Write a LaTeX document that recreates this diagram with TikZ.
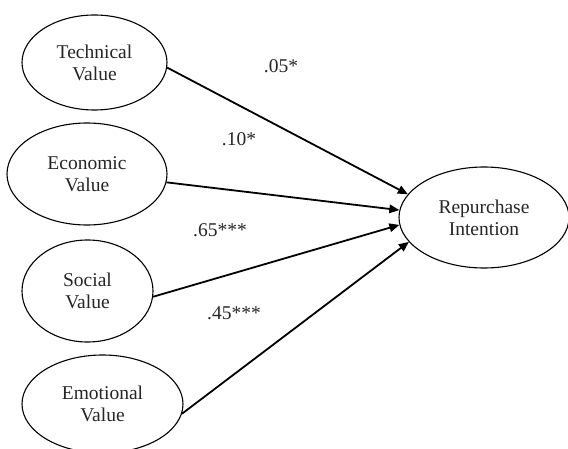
\documentclass[tikz,border=0pt]{standalone}
\usepackage{fontspec}
\setmainfont{Liberation Serif}
\usetikzlibrary{shapes.geometric,arrows.meta}
\begin{document}
\begin{tikzpicture}[x=1pt,y=-1pt,
  latent/.style={ellipse,draw=black,line width=1.1pt,inner sep=0pt,align=center,
    text=black!85,font=\fontsize{19.5}{22}\selectfont},
  path/.style={line width=1.8pt,-{Triangle[length=10pt,width=8.5pt]}},
  coef/.style={text=black!85,font=\fontsize{19.5}{22}\selectfont,inner sep=0pt}]
\useasboundingbox[fill=white] (0,0) rectangle (568,449);
\node[latent,minimum width=145pt,minimum height=95pt] (tv) at (94.5,62.5) {Technical\\Value};
\node[latent,minimum width=160pt,minimum height=102pt] (ev) at (87,174) {Economic\\Value};
\node[latent,minimum width=131pt,minimum height=102pt] (sv) at (87.5,291) {Social\\Value};
\node[latent,minimum width=161pt,minimum height=98pt] (mv) at (102.5,404) {Emotional\\Value};
\node[latent,minimum width=170pt,minimum height=101pt] (ri) at (484,217.5) {Repurchase\\Intention};
\draw[path] (tv.-4) -- (ri.163);
\draw[path] (ev.-6) -- (ri.175);
\draw[path] (sv.-5) -- (ri.185.6);
\draw[path] (mv.-7) -- (ri.198.8);
\node[coef] (c1) at (281,66) {.05*};
\node[coef] (c2) at (239,139) {.10*};
\node[coef] (c3) at (220,230) {.65***};
\node[coef] (c4) at (234,313) {.45***};
\end{tikzpicture}
\end{document}
